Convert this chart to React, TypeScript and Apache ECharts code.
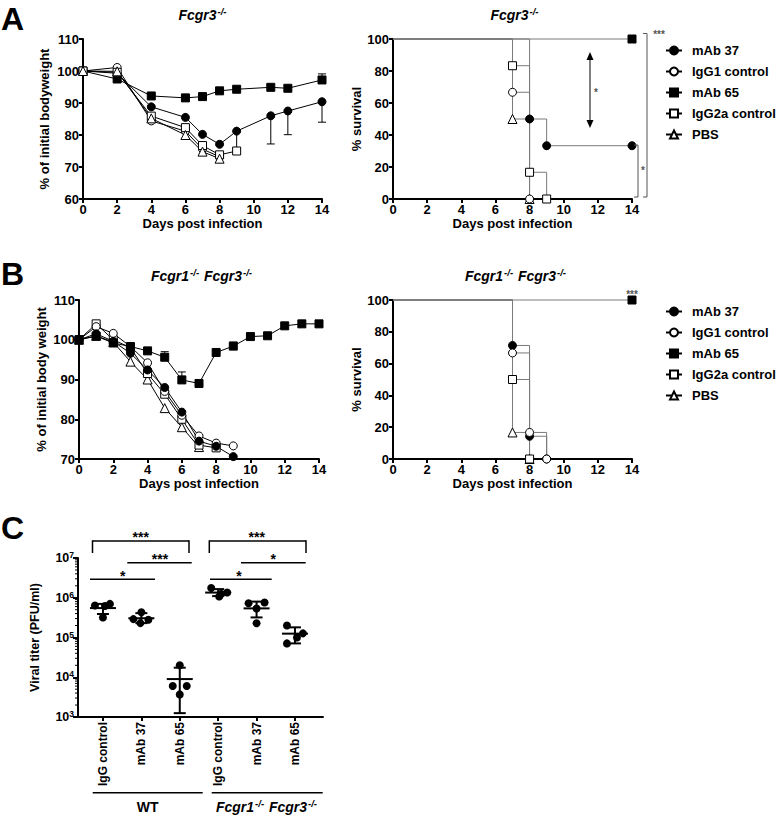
import React, { useEffect, useRef } from 'react';
import * as echarts from 'echarts';

const FONT = '"Liberation Sans", Arial, Helvetica, sans-serif';

// ---------------- DATA ----------------
const groupNames = ['mAb 37', 'IgG1 control', 'mAb 65', 'IgG2a control', 'PBS'];

// Panel A (Fcgr3-/-): body weight, % of initial
const daysA = [0, 2, 4, 6, 7, 8, 9, 11, 12, 14];
const weightA_mAb37 = [100, 99.3, 88.8, 85.5, 80.2, 77.1, 81.2, 86.0, 87.5, 90.4];
const weightA_IgG1 = [100, 101.1, 84.4, 81.2, 75.6, 73.2, null, null, null, null];
const weightA_mAb65 = [100, 97.5, 92.2, 91.6, 92.0, 93.8, 94.3, 94.9, 94.6, 97.2];
const weightA_IgG2a = [100, 99.6, 85.9, 82.3, 76.7, 73.8, 75.0, null, null, null];
const weightA_PBS = [100, 99.9, 85.2, 80.0, 74.8, 72.6, null, null, null, null];
const errA_mAb37_days = [9, 11, 12, 14];
const errA_mAb37_ends = [75.5, 77.2, 80.1, 84.0];
const errA_mAb65_days = [14];
const errA_mAb65_ends = [99.1];

// Panel A (Fcgr3-/-): survival (%)
const survA_mAb37_days = [0, 8, 9, 14];
const survA_mAb37 = [100, 50, 33.3, 33.3];
const survA_IgG1_days = [0, 7, 8];
const survA_IgG1 = [100, 66.7, 0];
const survA_mAb65_days = [0, 14];
const survA_mAb65 = [100, 100];
const survA_IgG2a_days = [0, 7, 8, 9];
const survA_IgG2a = [100, 83.3, 16.7, 0];
const survA_PBS_days = [0, 7, 8];
const survA_PBS = [100, 50, 0];

// Panel B (Fcgr1-/- Fcgr3-/-): body weight, % of initial
const daysB = [0, 1, 2, 3, 4, 5, 6, 7, 8, 9, 10, 11, 12, 13, 14];
const weightB_mAb37 = [100, 101.5, 99.6, 96.6, 92.4, 88.0, 81.8, 74.5, 73.2, 70.6];
const weightB_IgG1 = [100, 103.3, 101.6, 98.3, 94.2, 87.0, 81.0, 75.8, 74.0, 73.3];
const weightB_mAb65 = [100, 100.9, 99.2, 98.3, 97.2, 95.6, 89.9, 89.0, 96.8, 98.4, 100.8, 101.0, 103.5, 104.0, 104.0];
const weightB_IgG2a = [100, 104.0, 100.0, 98.0, 91.5, 86.3, 80.0, 73.5, 72.8];
const weightB_PBS = [100, 101.0, 99.4, 94.5, 90.0, 82.8, 78.0, 73.0];
const errB_mAb65_days = [5, 6, 9];
const errB_mAb65_ends = [97.0, 91.9, 99.4];

// Panel B: survival (%)
const survB_mAb37_days = [0, 7, 8, 9];
const survB_mAb37 = [100, 71.4, 14.3, 0];
const survB_IgG1_days = [0, 7, 8, 9];
const survB_IgG1 = [100, 66.7, 16.7, 0];
const survB_mAb65_days = [0, 14];
const survB_mAb65 = [100, 100];
const survB_IgG2a_days = [0, 7, 8];
const survB_IgG2a = [100, 50, 0];
const survB_PBS_days = [0, 7, 8];
const survB_PBS = [100, 16.7, 0];

// Panel C: viral titer (PFU/ml)
const titerCategories = ['IgG control', 'mAb 37', 'mAb 65', 'IgG control', 'mAb 37', 'mAb 65'];
const titer_WT_IgG = [6.4e5, 6.2e5, 7.0e5, 3.2e5];
const titer_WT_mAb37 = [4.3e5, 2.9e5, 2.3e5, 2.8e5];
const titer_WT_mAb65 = [2.0e4, 6.0e3, 6.0e3, 3.7e3];
const titer_KO_IgG = [1.75e6, 1.08e6, 1.36e6, 1.25e6];
const titer_KO_mAb37 = [7.3e5, 7.6e5, 5.35e5, 2.28e5];
const titer_KO_mAb65 = [2.0e5, 1.27e5, 1.0e5, 7.1e4];
const titerMean = [5.5e5, 3.05e5, 9.0e3, 1.35e6, 5.4e5, 1.25e5];
const titerSdLow = [3.9e5, 2.3e5, 1.25e3, 1.1e6, 3.2e5, 7.1e4];
const titerSdHigh = [7.0e5, 4.1e5, 1.74e4, 1.65e6, 8.0e5, 1.8e5];

// ---------------- STYLE / LAYOUT ----------------
const DOT_JITTER_PX = [
  [-8, 2, 7, 0],
  [0, -8, -1, 7],
  [0, -7, 7, 0],
  [-7, 1, 9, 3],
  [-8, 8, 0, 0],
  [-8, 8, 2, -8],
];
const C_XMIN = -0.65;
const C_XMAX = 5.73;

const marker: Record<string, { symbol: string; size: number; fill: string }> = {
  'mAb 37': { symbol: 'circle', size: 8, fill: '#000' },
  'IgG1 control': { symbol: 'circle', size: 8, fill: '#fff' },
  'mAb 65': { symbol: 'rect', size: 8, fill: '#000' },
  'IgG2a control': { symbol: 'rect', size: 8, fill: '#fff' },
  PBS: { symbol: 'triangle', size: 9, fill: '#fff' },
};

const axisLineS = { show: true, onZero: false, lineStyle: { color: '#000', width: 2 } };
const axisTickS = { show: true, length: 4, lineStyle: { color: '#000', width: 2 } };
const labelS = { color: '#000', fontFamily: FONT, fontWeight: 'bold' as const, fontSize: 13, margin: 4 };
const nameS = { color: '#000', fontFamily: FONT, fontWeight: 'bold' as const, fontSize: 13 };

function buildOption() {
  const grids = [
    { left: 83, top: 39, width: 239, height: 160 },
    { left: 393, top: 39, width: 239, height: 160 },
    { left: 79, top: 300, width: 240, height: 159 },
    { left: 393, top: 300, width: 239, height: 159 },
    { left: 78, top: 558, width: 245, height: 159 },
  ];

  const dayAxis = (gi: number) => ({
    gridIndex: gi, type: 'value', min: 0, max: 14, interval: 2,
    name: 'Days post infection', nameLocation: 'middle', nameGap: 15, nameTextStyle: nameS,
    axisLine: axisLineS, axisTick: axisTickS, axisLabel: labelS, splitLine: { show: false },
  });
  const yAx = (gi: number, min: number, max: number, interval: number, name: string, gap: number) => ({
    gridIndex: gi, type: 'value', min, max, interval,
    name, nameLocation: 'middle', nameGap: gap, nameRotate: 90, nameTextStyle: nameS,
    axisLine: axisLineS, axisTick: axisTickS, axisLabel: labelS, splitLine: { show: false },
  });

  const xAxis: any[] = [
    dayAxis(0), dayAxis(1), dayAxis(2), dayAxis(3),
    {
      gridIndex: 4, type: 'value', min: C_XMIN, max: C_XMAX,
      axisLine: axisLineS,
      axisTick: { ...axisTickS, customValues: [0, 1, 2, 3, 4, 5] },
      axisLabel: {
        ...labelS, fontSize: 12, margin: 5, rotate: 90,
        customValues: [0, 1, 2, 3, 4, 5],
        formatter: (v: number) => titerCategories[Math.round(v)] ?? '',
      },
      splitLine: { show: false },
    },
  ];
  const yAxis: any[] = [
    yAx(0, 60, 110, 10, '% of initial bodyweight', 32),
    yAx(1, 0, 100, 20, '% survival', 29),
    yAx(2, 70, 110, 10, '% of initial body weight', 31),
    yAx(3, 0, 100, 20, '% survival', 29),
    {
      gridIndex: 4, type: 'log', logBase: 10, min: 1e3, max: 1e7,
      name: 'Viral titer (PFU/ml)', nameLocation: 'middle', nameGap: 37, nameRotate: 90,
      nameTextStyle: { ...nameS, fontSize: 12.5 },
      axisLine: axisLineS, axisTick: { ...axisTickS, length: 5 },
      axisLabel: {
        ...labelS, fontSize: 12, margin: 4,
        formatter: (v: number) => `{b|10}{s|${Math.round(Math.log10(v))}}`,
        rich: {
          b: { fontFamily: FONT, fontWeight: 'bold', fontSize: 12.5, lineHeight: 15, color: '#000' },
          s: { fontFamily: FONT, fontWeight: 'bold', fontSize: 8.5, lineHeight: 8, color: '#000', verticalAlign: 'top' },
        },
      },
      splitLine: { show: false },
    },
  ];

  const toPairs = (days: number[], vals: (number | null)[]) =>
    days.map((d, i) => (vals[i] == null ? null : [d, vals[i]])).filter((p) => p !== null);

  const weightSeries = (name: string, days: number[], vals: (number | null)[], gi: number) => ({
    type: 'line', name, xAxisIndex: gi, yAxisIndex: gi,
    data: toPairs(days, vals),
    symbol: marker[name].symbol, symbolSize: marker[name].size,
    itemStyle: { color: marker[name].fill, borderColor: '#000', borderWidth: 1 },
    lineStyle: { color: '#000', width: 1 },
    z: 3, clip: false, silent: true,
  });

  const survSeries = (name: string, days: number[], vals: number[], gi: number) => ({
    type: 'line', name, xAxisIndex: gi, yAxisIndex: gi, step: 'end',
    data: days.map((d, i) => ({ value: [d, vals[i]], symbol: i === 0 ? 'none' : marker[name].symbol })),
    symbol: marker[name].symbol, symbolSize: marker[name].size,
    itemStyle: { color: marker[name].fill, borderColor: '#000', borderWidth: 1 },
    lineStyle: { color: '#7a7a7a', width: 1 },
    z: 3, clip: false, silent: true,
  });

  const errSeries = (days: number[], ends: number[], wDays: number[], wVals: (number | null)[], gi: number) => ({
    type: 'custom', xAxisIndex: gi, yAxisIndex: gi, z: 2, silent: true,
    data: days.map((d, i) => [d, wVals[wDays.indexOf(d)], ends[i]]),
    encode: { x: 0, y: [1, 2] },
    renderItem: (_p: any, api: any) => {
      const a = api.coord([api.value(0), api.value(1)]);
      const b = api.coord([api.value(0), api.value(2)]);
      const s = { stroke: '#000', lineWidth: 1 };
      return {
        type: 'group',
        children: [
          { type: 'line', shape: { x1: a[0], y1: a[1], x2: b[0], y2: b[1] }, style: s },
          { type: 'line', shape: { x1: b[0] - 4, y1: b[1], x2: b[0] + 4, y2: b[1] }, style: s },
        ],
      };
    },
  });

  const series: any[] = [
    // A weight
    weightSeries('mAb 37', daysA, weightA_mAb37, 0),
    weightSeries('IgG1 control', daysA, weightA_IgG1, 0),
    weightSeries('mAb 65', daysA, weightA_mAb65, 0),
    weightSeries('IgG2a control', daysA, weightA_IgG2a, 0),
    weightSeries('PBS', daysA, weightA_PBS, 0),
    errSeries(errA_mAb37_days, errA_mAb37_ends, daysA, weightA_mAb37, 0),
    errSeries(errA_mAb65_days, errA_mAb65_ends, daysA, weightA_mAb65, 0),
    // A survival
    survSeries('PBS', survA_PBS_days, survA_PBS, 1),
    survSeries('mAb 37', survA_mAb37_days, survA_mAb37, 1),
    survSeries('IgG1 control', survA_IgG1_days, survA_IgG1, 1),
    survSeries('mAb 65', survA_mAb65_days, survA_mAb65, 1),
    survSeries('IgG2a control', survA_IgG2a_days, survA_IgG2a, 1),
    // B weight
    weightSeries('PBS', daysB, weightB_PBS, 2),
    weightSeries('IgG2a control', daysB, weightB_IgG2a, 2),
    weightSeries('IgG1 control', daysB, weightB_IgG1, 2),
    weightSeries('mAb 37', daysB, weightB_mAb37, 2),
    weightSeries('mAb 65', daysB, weightB_mAb65, 2),
    errSeries(errB_mAb65_days, errB_mAb65_ends, daysB, weightB_mAb65, 2),
    // B survival
    survSeries('PBS', survB_PBS_days, survB_PBS, 3),
    survSeries('IgG2a control', survB_IgG2a_days, survB_IgG2a, 3),
    survSeries('mAb 37', survB_mAb37_days, survB_mAb37, 3),
    survSeries('IgG1 control', survB_IgG1_days, survB_IgG1, 3),
    survSeries('mAb 65', survB_mAb65_days, survB_mAb65, 3),
  ];

  // C: minor log ticks
  const minorVals: number[] = [];
  for (let e = 3; e < 7; e++) for (let m = 2; m <= 9; m++) minorVals.push(m * Math.pow(10, e));
  series.push({
    type: 'custom', xAxisIndex: 4, yAxisIndex: 4, silent: true, z: 2,
    data: minorVals.map((v) => [C_XMIN, v]),
    encode: { x: 0, y: 1 },
    renderItem: (_p: any, api: any) => {
      const p = api.coord([api.value(0), api.value(1)]);
      return { type: 'line', shape: { x1: p[0] - 3, y1: p[1], x2: p[0], y2: p[1] }, style: { stroke: '#000', lineWidth: 1 } };
    },
  });
  // C: mean +/- SD
  series.push({
    type: 'custom', xAxisIndex: 4, yAxisIndex: 4, silent: true, z: 3,
    data: titerMean.map((m, i) => [i, m, titerSdLow[i], titerSdHigh[i]]),
    encode: { x: 0, y: [1, 2, 3] },
    renderItem: (_p: any, api: any) => {
      const g = api.value(0);
      const m = api.coord([g, api.value(1)]);
      const lo = api.coord([g, api.value(2)]);
      const hi = api.coord([g, api.value(3)]);
      const s = { stroke: '#000', lineWidth: 2 };
      return {
        type: 'group',
        children: [
          { type: 'line', shape: { x1: m[0] - 13, y1: m[1], x2: m[0] + 13, y2: m[1] }, style: s },
          { type: 'line', shape: { x1: lo[0], y1: lo[1], x2: hi[0], y2: hi[1] }, style: s },
          { type: 'line', shape: { x1: lo[0] - 6, y1: lo[1], x2: lo[0] + 6, y2: lo[1] }, style: s },
          { type: 'line', shape: { x1: hi[0] - 6, y1: hi[1], x2: hi[0] + 6, y2: hi[1] }, style: s },
        ],
      };
    },
  });
  // C: dots
  const titerGroups = [titer_WT_IgG, titer_WT_mAb37, titer_WT_mAb65, titer_KO_IgG, titer_KO_mAb37, titer_KO_mAb65];
  const dots: any[] = [];
  titerGroups.forEach((vals, g) =>
    vals.forEach((v, k) => dots.push({ value: [g, v], symbolOffset: [DOT_JITTER_PX[g][k], 0] }))
  );
  series.push({
    type: 'scatter', xAxisIndex: 4, yAxisIndex: 4, silent: true, z: 4,
    symbol: 'circle', symbolSize: 8, itemStyle: { color: '#000', opacity: 1 }, data: dots,
  });

  // ---------- graphics ----------
  const T = (x: number, y: number, text: string, font: string, align = 'center', vAlign = 'middle', rich?: any, fill = '#000') => ({
    type: 'text', x, y, silent: true, z: 10,
    style: { text, font, fill, align, verticalAlign: vAlign, textAlign: align, textVerticalAlign: vAlign, rich },
  });
  const L = (x1: number, y1: number, x2: number, y2: number, stroke = '#000', lineWidth = 1) => ({
    type: 'line', silent: true, z: 10, shape: { x1, y1, x2, y2 }, style: { stroke, lineWidth },
  });
  const titleRich = {
    i: { fontFamily: FONT, fontWeight: 'bold', fontStyle: 'italic', fontSize: 14, lineHeight: 17, color: '#000' },
    s: { fontFamily: FONT, fontWeight: 'bold', fontStyle: 'italic', fontSize: 9.5, lineHeight: 9, color: '#000', verticalAlign: 'top', padding: [0, 1, 0, 1] },
  };
  const letterFont = `bold 32px ${FONT}`;
  const astF = (s: number) => `bold ${s}px ${FONT}`;
  const gray = '#555';

  const elements: any[] = [
    T(1, 19, 'A', letterFont, 'left'),
    T(1, 274, 'B', letterFont, 'left'),
    T(1, 528, 'C', letterFont, 'left'),
    T(203, 15, '{i|Fcgr3}{s|-/-}', '', 'center', 'middle', titleRich),
    T(515, 15, '{i|Fcgr3}{s|-/-}', '', 'center', 'middle', titleRich),
    T(202, 276, '{i|Fcgr1}{s|-/-}{i| Fcgr3}{s|-/-}', '', 'center', 'middle', titleRich),
    T(516, 276, '{i|Fcgr1}{s|-/-}{i| Fcgr3}{s|-/-}', '', 'center', 'middle', titleRich),
    // A survival annotations
    L(643, 33.5, 647, 33.5, gray), L(647, 33.5, 647, 197, gray), L(643, 197, 647, 197, gray),
    T(659, 34, '***', astF(10), 'center', 'middle', undefined, gray),
    L(634, 145, 638, 145, gray), L(638, 145, 638, 197, gray), L(634, 197, 638, 197, gray),
    T(643, 170, '*', astF(10), 'center', 'middle', undefined, gray),
    L(590, 58, 590, 122, '#000', 1),
    { type: 'polygon', silent: true, z: 10, shape: { points: [[590, 52], [586.5, 60], [593.5, 60]] }, style: { fill: '#000' } },
    { type: 'polygon', silent: true, z: 10, shape: { points: [[590, 128], [586.5, 120], [593.5, 120]] }, style: { fill: '#000' } },
    T(596, 92, '*', astF(10), 'center', 'middle', undefined, gray),
    // B survival annotation
    T(632, 294, '***', astF(10), 'center', 'middle', undefined, gray),
    // C significance brackets
    L(92.5, 541, 189, 541, '#000', 1.5), L(92.5, 540.3, 92.5, 553, '#000', 1.5), L(189, 540.3, 189, 553, '#000', 1.5),
    T(140.7, 537, '***', astF(14)),
    L(127.3, 562.7, 191.7, 562.7, '#000', 1.5),
    T(160, 559, '***', astF(14)),
    L(90, 579.3, 155, 579.3, '#000', 1.5),
    T(122.7, 576, '*', astF(14)),
    L(209.3, 541, 306, 541, '#000', 1.5), L(209.3, 540.3, 209.3, 553, '#000', 1.5), L(306, 540.3, 306, 553, '#000', 1.5),
    T(256.7, 537, '***', astF(14)),
    L(241, 562.7, 305.7, 562.7, '#000', 1.5),
    T(273.3, 559, '*', astF(14)),
    L(210, 579.3, 271.7, 579.3, '#000', 1.5),
    T(239, 576, '*', astF(14)),
    // C group labels
    L(92.7, 792.7, 202.7, 792.7, '#000', 1.5),
    L(211.7, 792.7, 322.7, 792.7, '#000', 1.5),
    T(147.7, 806.5, 'WT', astF(14)),
    T(267, 806.5, '{i|Fcgr1}{s|-/-}{i| Fcgr3}{s|-/-}', '', 'center', 'middle', titleRich),
  ];

  const legendBase = {
    data: groupNames, orient: 'vertical', itemWidth: 16, itemHeight: 10, itemGap: 8,
    padding: 0, selectedMode: false,
    textStyle: { color: '#000', fontFamily: FONT, fontWeight: 'bold', fontSize: 13, padding: [0, 0, 0, 5] },
  };

  return {
    animation: false,
    backgroundColor: '#fff',
    grid: grids,
    xAxis,
    yAxis,
    legend: [
      { ...legendBase, left: 665, top: 44 },
      { ...legendBase, left: 665, top: 305 },
    ],
    series,
    graphic: { elements },
  };
}

export default function App() {
  const ref = useRef<HTMLDivElement>(null);
  useEffect(() => {
    if (!ref.current) return;
    const chart = echarts.init(ref.current, undefined, { renderer: 'svg' });
    chart.setOption(buildOption() as any);
    return () => chart.dispose();
  }, []);
  return (
    <div
      ref={ref}
      style={{ position: 'absolute', left: 0, top: 0, width: 778, height: 817, background: '#fff' }}
    />
  );
}
